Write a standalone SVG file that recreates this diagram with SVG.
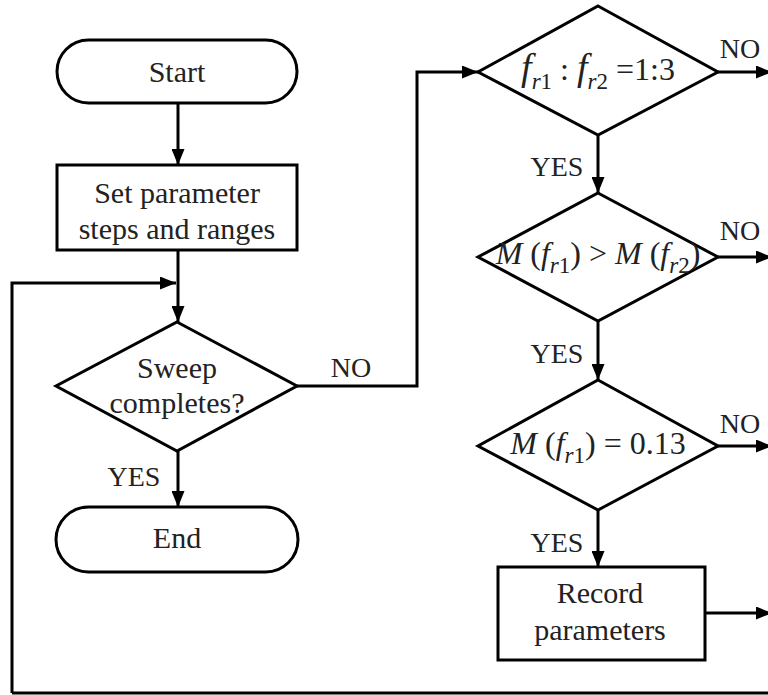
<svg xmlns="http://www.w3.org/2000/svg" width="768" height="695" viewBox="0 0 768 695">
  <defs>
    <style>
      .shape { fill: #fff; stroke: #000; stroke-width: 3; }
      .line { fill: none; stroke: #000; stroke-width: 3; }
      .arr { marker-end: url(#arrow); }
    </style>
    <marker id="arrow" markerUnits="userSpaceOnUse" markerWidth="17" markerHeight="13" refX="16" refY="6.5" orient="auto">
      <path d="M0,0 L16,6.5 L0,13 z" fill="#000"/>
    </marker>
  </defs>

  <rect width="768" height="695" fill="#fff"/>

  <!-- connectors -->
  <g id="connectors">
    <path class="line arr" d="M178,103 V165"/>
    <path class="line arr" d="M178,250 V322"/>
    <path class="line arr" d="M12,693 V283 H176"/>
    <path class="line" d="M12,693 H768"/>
    <path class="line arr" d="M297,386 H417 V72 H478"/>
    <path class="line arr" d="M178,451 V507"/>
    <path class="line arr" d="M718,72 H772"/>
    <path class="line arr" d="M598,135 V193"/>
    <path class="line arr" d="M718,257 H772"/>
    <path class="line arr" d="M598,321 V380"/>
    <path class="line arr" d="M718,446 H772"/>
    <path class="line arr" d="M598,510 V567"/>
    <path class="line arr" d="M705,613 H772"/>
  </g>

  <!-- branch labels -->
  <g id="labels">
    <text font-family="Liberation Serif" font-size="28" text-anchor="middle" fill="#222" x="351" y="377">NO</text>
    <text font-family="Liberation Serif" font-size="28" text-anchor="middle" fill="#222" x="134" y="486">YES</text>
    <text font-family="Liberation Serif" font-size="28" text-anchor="middle" fill="#222" x="740" y="58">NO</text>
    <text font-family="Liberation Serif" font-size="28" text-anchor="middle" fill="#222" x="740" y="240">NO</text>
    <text font-family="Liberation Serif" font-size="28" text-anchor="middle" fill="#222" x="740" y="433">NO</text>
    <text font-family="Liberation Serif" font-size="28" text-anchor="middle" fill="#222" x="557" y="176">YES</text>
    <text font-family="Liberation Serif" font-size="28" text-anchor="middle" fill="#222" x="557" y="363">YES</text>
    <text font-family="Liberation Serif" font-size="28" text-anchor="middle" fill="#222" x="557" y="552">YES</text>
  </g>

  <g id="start">
    <rect class="shape" x="57" y="40" width="240" height="63" rx="31.5"/>
    <text font-family="Liberation Serif" font-size="30" text-anchor="middle" fill="#222" x="177" y="82">Start</text>
  </g>

  <g id="set-params">
    <rect class="shape" x="57" y="165" width="240" height="85"/>
    <text font-family="Liberation Serif" font-size="30" text-anchor="middle" fill="#222" x="177" y="203">Set parameter</text>
    <text font-family="Liberation Serif" font-size="30" text-anchor="middle" fill="#222" x="177" y="239">steps and ranges</text>
  </g>

  <g id="sweep">
    <polygon class="shape" points="177,322 297,386 177,451 56,386"/>
    <text font-family="Liberation Serif" font-size="30" text-anchor="middle" fill="#222" x="177" y="378">Sweep</text>
    <text font-family="Liberation Serif" font-size="30" text-anchor="middle" fill="#222" x="177" y="413">completes?</text>
  </g>

  <g id="end">
    <rect class="shape" x="56" y="507" width="242" height="65" rx="32.5"/>
    <text font-family="Liberation Serif" font-size="30" text-anchor="middle" fill="#222" x="177" y="548">End</text>
  </g>

  <g id="ratio-check">
    <polygon class="shape" points="598,6 718,72 598,135 478,72"/>
    <text font-family="Liberation Serif" font-size="32" text-anchor="middle" fill="#222" x="598" y="80"><tspan font-style="italic" font-size="38">f</tspan><tspan font-style="italic" font-size="23" dy="9">r</tspan><tspan font-size="23">1</tspan><tspan dy="-9"> : </tspan><tspan font-style="italic" font-size="38">f</tspan><tspan font-style="italic" font-size="23" dy="9">r</tspan><tspan font-size="23">2</tspan><tspan dy="-9"> =1:3</tspan></text>
  </g>

  <g id="magnitude-compare">
    <polygon class="shape" points="598,193 718,257 598,321 478,257"/>
    <text font-family="Liberation Serif" font-size="32" text-anchor="middle" fill="#222" x="598" y="264"><tspan font-style="italic">M</tspan><tspan> (</tspan><tspan font-style="italic">f</tspan><tspan font-style="italic" font-size="23" dy="9">r</tspan><tspan font-size="23">1</tspan><tspan dy="-9">) &#62; </tspan><tspan font-style="italic">M</tspan><tspan> (</tspan><tspan font-style="italic">f</tspan><tspan font-style="italic" font-size="23" dy="9">r</tspan><tspan font-size="23">2</tspan><tspan dy="-9">)</tspan></text>
  </g>

  <g id="magnitude-value">
    <polygon class="shape" points="598,380 718,446 598,510 478,446"/>
    <text font-family="Liberation Serif" font-size="32" text-anchor="middle" fill="#222" x="598" y="454"><tspan font-style="italic">M</tspan><tspan> (</tspan><tspan font-style="italic">f</tspan><tspan font-style="italic" font-size="23" dy="9">r</tspan><tspan font-size="23">1</tspan><tspan dy="-9">) = 0.13</tspan></text>
  </g>

  <g id="record">
    <rect class="shape" x="498" y="567" width="207" height="93"/>
    <text font-family="Liberation Serif" font-size="30" text-anchor="middle" fill="#222" x="600" y="603">Record</text>
    <text font-family="Liberation Serif" font-size="30" text-anchor="middle" fill="#222" x="600" y="640">parameters</text>
  </g>
</svg>
